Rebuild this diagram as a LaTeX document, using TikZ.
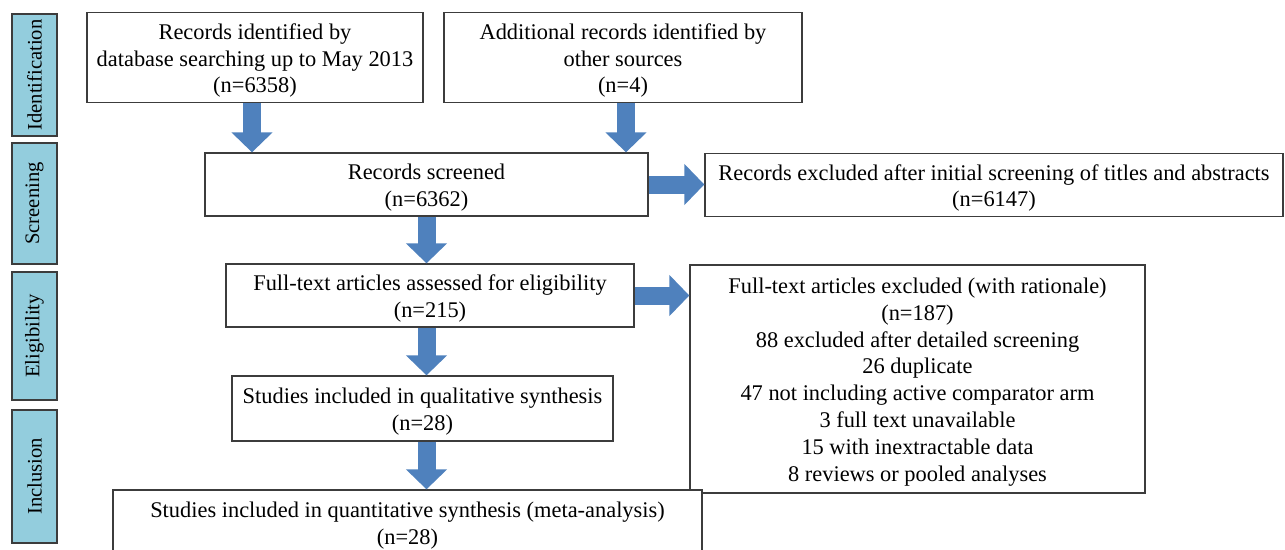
\documentclass[tikz,border=0pt]{standalone}
\usepackage{fontspec}
\setmainfont{Liberation Serif}
\usetikzlibrary{arrows.meta,calc}
\definecolor{arrowblue}{HTML}{4F81BD}
\definecolor{labelblue}{HTML}{93CDDD}
\definecolor{boxline}{HTML}{3C3C3C}
\tikzset{
  frame/.style={draw=boxline, line width=1.3pt, fill=white, inner sep=0pt},
  txt/.style={align=center, inner sep=0pt, yshift=-3pt,
    font=\fontsize{22.4}{26.8}\selectfont},
  stage/.style={draw=boxline, line width=1.2pt, fill=labelblue, inner sep=0pt, rotate=90,
    font=\fontsize{20.6}{24}\selectfont},
  flow/.style={line width=18pt, color=arrowblue,
    -{Triangle[width=40pt,length=20pt]}}
}
\begin{document}
\begin{tikzpicture}[x=1pt,y=-1pt]
\useasboundingbox (0,0) rectangle (1285,549);
\clip (0,0) rectangle (1285,549);
% stage labels
\node[stage, minimum width=122pt, minimum height=45pt] (s1) at (34.5,75) {Identification};
\node[stage, minimum width=121pt, minimum height=45pt] (s2) at (34.5,203.5) {Screening};
\node[stage, minimum width=128pt, minimum height=45pt] (s3) at (34.5,336) {Eligibility};
\node[stage, minimum width=133pt, minimum height=45pt] (s4) at (34.5,476.5) {Inclusion};
% boxes
\node[frame, minimum width=336pt, minimum height=90pt] (b1) at (255,57.5) {};
\node[txt] (t1) at (b1.center) {Records identified by\\database searching up to May 2013\\(n=6358)};
\node[frame, minimum width=358pt, minimum height=90pt] (b2) at (623,57.5) {};
\node[txt] (t2) at (b2.center) {Additional records identified by\\other sources\\(n=4)};
\node[frame, minimum width=443pt, minimum height=63pt] (b3) at (426.5,184.5) {};
\node[txt] (t3) at (b3.center) {Records screened\\(n=6362)};
\node[frame, minimum width=578pt, minimum height=63pt] (b4) at (994,185) {};
\node[txt] (t4) at (b4.center) {Records excluded after initial screening of titles and abstracts\\(n=6147)};
\node[frame, minimum width=408pt, minimum height=63pt] (b5) at (430,295.5) {};
\node[txt] (t5) at (b5.center) {Full-text articles assessed for eligibility\\(n=215)};
\node[frame, minimum width=455pt, minimum height=228pt] (b6) at (917.5,379) {};
\node[txt] (t6) at (b6.center) {Full-text articles excluded (with rationale)\\(n=187)\\88 excluded after detailed screening\\26 duplicate\\47 not including active comparator arm\\3 full text unavailable\\15 with inextractable data\\8 reviews or pooled analyses};
\node[frame, minimum width=381pt, minimum height=65pt] (b7) at (422.5,408.5) {};
\node[txt] (t7) at (b7.center) {Studies included in qualitative synthesis\\(n=28)};
\node[frame, minimum width=589pt, minimum height=70pt] (b8) at (407.5,525) {};
\node[txt, yshift=2pt] (t8) at (b8.center) {Studies included in quantitative synthesis (meta-analysis)\\(n=28)};
% arrows
\draw[flow] ($(b1.south)+(-3,0)$) -- ($(b1.south |- b3.north)+(-3,0)$);
\draw[flow] ($(b2.south)+(3,0)$) -- ($(b2.south |- b3.north)+(3,0)$);
\draw[flow] (b3.south) -- (b3.south |- b5.north);
\draw[flow] (b3.south |- b5.south) -- (b3.south |- b7.north);
\draw[flow] (b3.south |- b7.south) -- (b3.south |- b8.north);
\draw[flow] (b3.east) -- (b3.east -| b4.west);
\draw[flow] (b5.east) -- (b5.east -| b6.west);
\end{tikzpicture}
\end{document}
